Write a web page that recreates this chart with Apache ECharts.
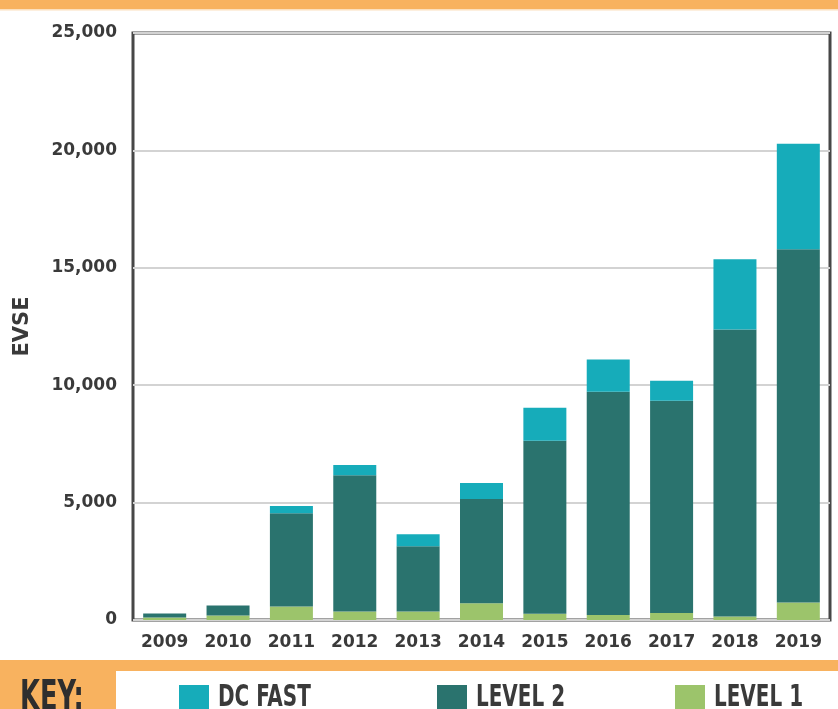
<!DOCTYPE html>
<html>
<head>
<meta charset="utf-8">
<script src="https://cdn.jsdelivr.net/npm/echarts@6/dist/echarts.min.js"></script>
<style>
html,body{margin:0;padding:0;background:#fff;}
#chart{width:838px;height:709px;}
</style>
</head>
<body>
<div id="chart"></div>
<script>
const years = ['2009','2010','2011','2012','2013','2014','2015','2016','2017','2018','2019'];
const level1 = [110, 190, 580, 360, 360, 710, 270, 210, 300, 150, 750];
const level2 = [170, 430, 3970, 5810, 2780, 4440, 7360, 9510, 9040, 12220, 15040];
const dcFast = [0, 0, 300, 430, 510, 680, 1410, 1370, 850, 2990, 4490];
const seriesNames = ['DC FAST', 'LEVEL 2', 'LEVEL 1'];
const keyLabel = 'KEY:';

const ORANGE = '#F8B25F';
const DARK = '#3a3a3a';
const condensed = '"DejaVu Sans Condensed","Liberation Sans Narrow",sans-serif';

const chart = echarts.init(document.getElementById('chart'), null, {renderer: 'canvas'});

const legendLefts = [174, 432, 670];

function legendAt(name, left) {
  return {
    data: [name],
    left: left,
    top: 680,
    orient: 'horizontal',
    icon: 'rect',
    itemWidth: 30,
    itemHeight: 30,
    selectedMode: false,
    formatter: () => '',
    textStyle: {fontSize: 1}
  };
}

function condensedText(str, x, y, size, scaleX, fill) {
  return {
    type: 'text', x: x, y: y, scaleX: scaleX, silent: true,
    style: {text: str, fill: fill, font: 'bold ' + size + 'px ' + condensed, verticalAlign: 'middle', align: 'left'}
  };
}

const option = {
  animation: false,
  backgroundColor: '#ffffff',
  grid: {
    left: 133, right: 8, top: 33, bottom: 89,
    show: true,
    borderColor: '#474747',
    borderWidth: 3,
    containLabel: false
  },
  legend: seriesNames.map((n, i) => legendAt(n, legendLefts[i])),
  xAxis: {
    type: 'category',
    data: years,
    axisLine: {show: false},
    axisTick: {show: false},
    axisLabel: {
      margin: 14,
      color: DARK,
      fontFamily: '"DejaVu Sans",sans-serif',
      fontWeight: 'bold',
      fontSize: 17
    }
  },
  yAxis: {
    type: 'value',
    min: 0,
    max: 25000,
    interval: 5000,
    name: 'EVSE',
    nameLocation: 'middle',
    nameGap: 100,
    nameRotate: 90,
    nameTextStyle: {
      color: DARK,
      fontFamily: '"DejaVu Sans",sans-serif',
      fontWeight: 'bold',
      fontSize: 21
    },
    axisLine: {show: false},
    axisTick: {show: false},
    splitLine: {lineStyle: {color: '#d3d3d3', width: 2}},
    axisLabel: {
      margin: 16,
      color: DARK,
      fontFamily: '"DejaVu Sans",sans-serif',
      fontWeight: 'bold',
      fontSize: 17,
      formatter: v => v.toLocaleString('en-US')
    }
  },
  series: [
    {name: 'LEVEL 1', type: 'bar', stack: 'evse', data: level1, barWidth: 43, itemStyle: {color: '#9CC46B'}},
    {name: 'LEVEL 2', type: 'bar', stack: 'evse', data: level2, barWidth: 43, itemStyle: {color: '#2A736E'}},
    {name: 'DC FAST', type: 'bar', stack: 'evse', data: dcFast, barWidth: 43, itemStyle: {color: '#16ACBA'}}
  ],
  graphic: [
    {type: 'rect', left: 0, top: 0, shape: {width: 838, height: 9}, style: {fill: ORANGE}, silent: true},
    {type: 'rect', left: 0, top: 9, shape: {width: 838, height: 1.5}, style: {fill: '#FCE0BE'}, silent: true},
    {type: 'rect', left: 0, top: 660, shape: {width: 838, height: 11}, style: {fill: ORANGE}, silent: true},
    {type: 'rect', left: 0, top: 660, shape: {width: 116, height: 49}, style: {fill: ORANGE}, silent: true},
    condensedText(keyLabel, 20, 699, 42, 0.68, '#2e2e2e'),
    condensedText(seriesNames[0], 218, 698, 30, 0.74, DARK),
    condensedText(seriesNames[1], 476, 698, 30, 0.74, DARK),
    condensedText(seriesNames[2], 714, 698, 30, 0.74, DARK)
  ]
};
chart.setOption(option);
</script>
</body>
</html>
